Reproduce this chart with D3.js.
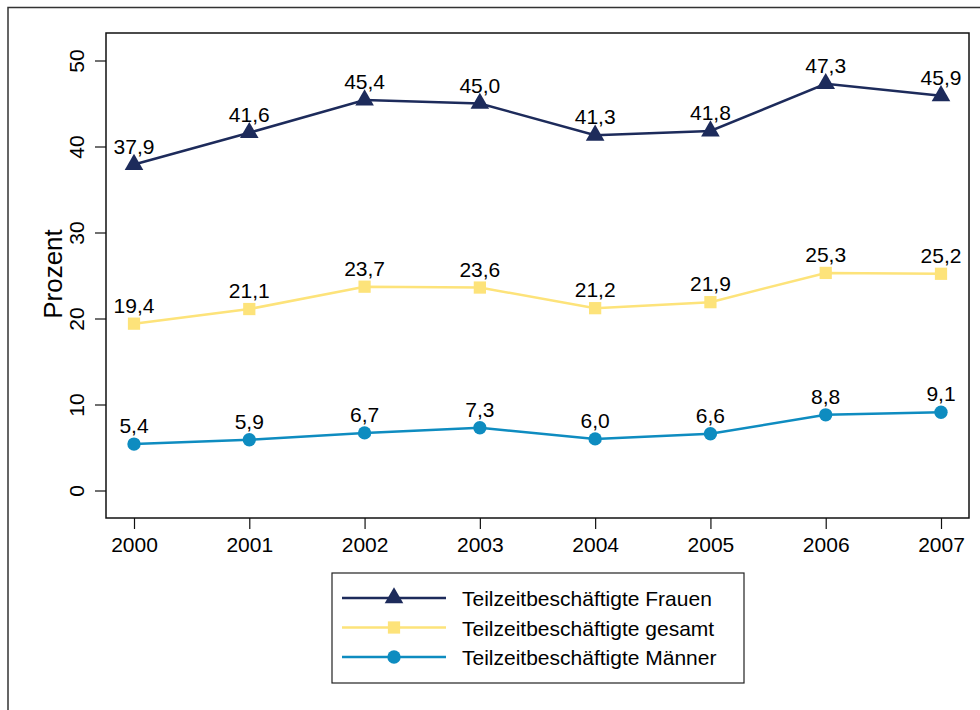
<!DOCTYPE html>
<html>
<head>
<meta charset="utf-8">
<script src="https://d3js.org/d3.v7.min.js"></script>
<style>
  body { margin: 0; background: #fff; }
  svg { display: block; font-family: "Liberation Sans", Arial, sans-serif; }
</style>
</head>
<body>
<svg width="980" height="710"></svg>
<script>
var years = [2000, 2001, 2002, 2003, 2004, 2005, 2006, 2007];
var frauen = [37.9, 41.6, 45.4, 45.0, 41.3, 41.8, 47.3, 45.9];
var gesamt = [19.4, 21.1, 23.7, 23.6, 21.2, 21.9, 25.3, 25.2];
var maenner = [5.4, 5.9, 6.7, 7.3, 6.0, 6.6, 8.8, 9.1];
var yTicks = [0, 10, 20, 30, 40, 50];

var series = [
    { name: "Teilzeitbeschäftigte Frauen", values: frauen, color: "#1d2b5b", symbol: d3.symbolTriangle, size: 150 },
    { name: "Teilzeitbeschäftigte gesamt", values: gesamt, color: "#fde37a", symbol: d3.symbolSquare, size: 150 },
    { name: "Teilzeitbeschäftigte Männer", values: maenner, color: "#0e8cc0", symbol: d3.symbolCircle, size: 140 }
];

var svg = d3.select("svg");
var fmt = function (v) { return d3.format(".1f")(v).replace(".", ","); };

// outer frame (runs off the right and bottom edges)
svg.append("path")
    .attr("d", "M8,715 L8,7.5 L985,7.5")
    .attr("fill", "none")
    .attr("stroke", "#333")
    .attr("stroke-width", 1.5);

var box = { left: 106, top: 33, right: 969, bottom: 518 };

var x = d3.scaleLinear().domain([2000, 2007]).range([134, 941]);
var y = d3.scaleLinear().domain([0, 50]).range([490.5, 60.5]);

// plot frame
svg.append("rect")
    .attr("x", box.left)
    .attr("y", box.top)
    .attr("width", box.right - box.left)
    .attr("height", box.bottom - box.top)
    .attr("fill", "none")
    .attr("stroke", "#111")
    .attr("stroke-width", 1.5);

// y axis
var yAxis = svg.append("g")
    .attr("transform", "translate(" + box.left + ",0)")
    .call(d3.axisLeft(y).tickValues(yTicks).tickSize(11).tickPadding(0).tickFormat(d3.format("d")));
yAxis.select(".domain").remove();
yAxis.selectAll(".tick line").attr("stroke", "#111").attr("stroke-width", 1.2);
yAxis.selectAll(".tick text")
    .attr("x", null).attr("dy", null)
    .attr("transform", "translate(-22,0) rotate(-90)")
    .attr("text-anchor", "middle")
    .attr("fill", "#000")
    .style("font-size", "21px")
    .style("font-family", "Liberation Sans, Arial, sans-serif");

// x axis
var xAxis = svg.append("g")
    .attr("transform", "translate(0," + box.bottom + ")")
    .call(d3.axisBottom(x).tickValues(years).tickSize(11).tickPadding(8).tickFormat(d3.format("d")));
xAxis.select(".domain").remove();
xAxis.selectAll(".tick line").attr("stroke", "#111").attr("stroke-width", 1.2);
xAxis.selectAll(".tick text")
    .attr("fill", "#000")
    .style("font-size", "21px")
    .style("font-family", "Liberation Sans, Arial, sans-serif");

// y title
svg.append("text")
    .attr("transform", "translate(62,274) rotate(-90)")
    .attr("text-anchor", "middle")
    .style("font-size", "26px")
    .text("Prozent");

var line = d3.line()
    .x(function (d, i) { return x(years[i]); })
    .y(function (d) { return y(d); });

series.forEach(function (s) {
    var g = svg.append("g");
    g.append("path")
        .datum(s.values)
        .attr("d", line)
        .attr("fill", "none")
        .attr("stroke", s.color)
        .attr("stroke-width", 2.5);

    g.selectAll("path.pt")
        .data(s.values)
        .enter().append("path")
        .attr("class", "pt")
        .attr("d", d3.symbol().type(s.symbol).size(s.size))
        .attr("transform", function (d, i) { return "translate(" + x(years[i]) + "," + y(d) + ")"; })
        .attr("fill", s.color);

    g.selectAll("text")
        .data(s.values)
        .enter().append("text")
        .attr("x", function (d, i) { return x(years[i]); })
        .attr("y", function (d) { return y(d) - 11; })
        .attr("text-anchor", "middle")
        .style("font-size", "21px")
        .text(fmt);
});

// legend
var lg = svg.append("g");
lg.append("rect")
    .attr("x", 332).attr("y", 573)
    .attr("width", 412).attr("height", 110)
    .attr("fill", "#fff")
    .attr("stroke", "#222")
    .attr("stroke-width", 1.2);

series.forEach(function (s, i) {
    var ly = 598 + i * 29.5;
    lg.append("line")
        .attr("x1", 342).attr("x2", 446)
        .attr("y1", ly).attr("y2", ly)
        .attr("stroke", s.color)
        .attr("stroke-width", 2.5);
    lg.append("path")
        .attr("d", d3.symbol().type(s.symbol).size(s.size))
        .attr("transform", "translate(394," + ly + ")")
        .attr("fill", s.color);
    lg.append("text")
        .attr("x", 462).attr("y", ly + 8)
        .style("font-size", "21px")
        .text(s.name);
});
</script>
</body>
</html>
